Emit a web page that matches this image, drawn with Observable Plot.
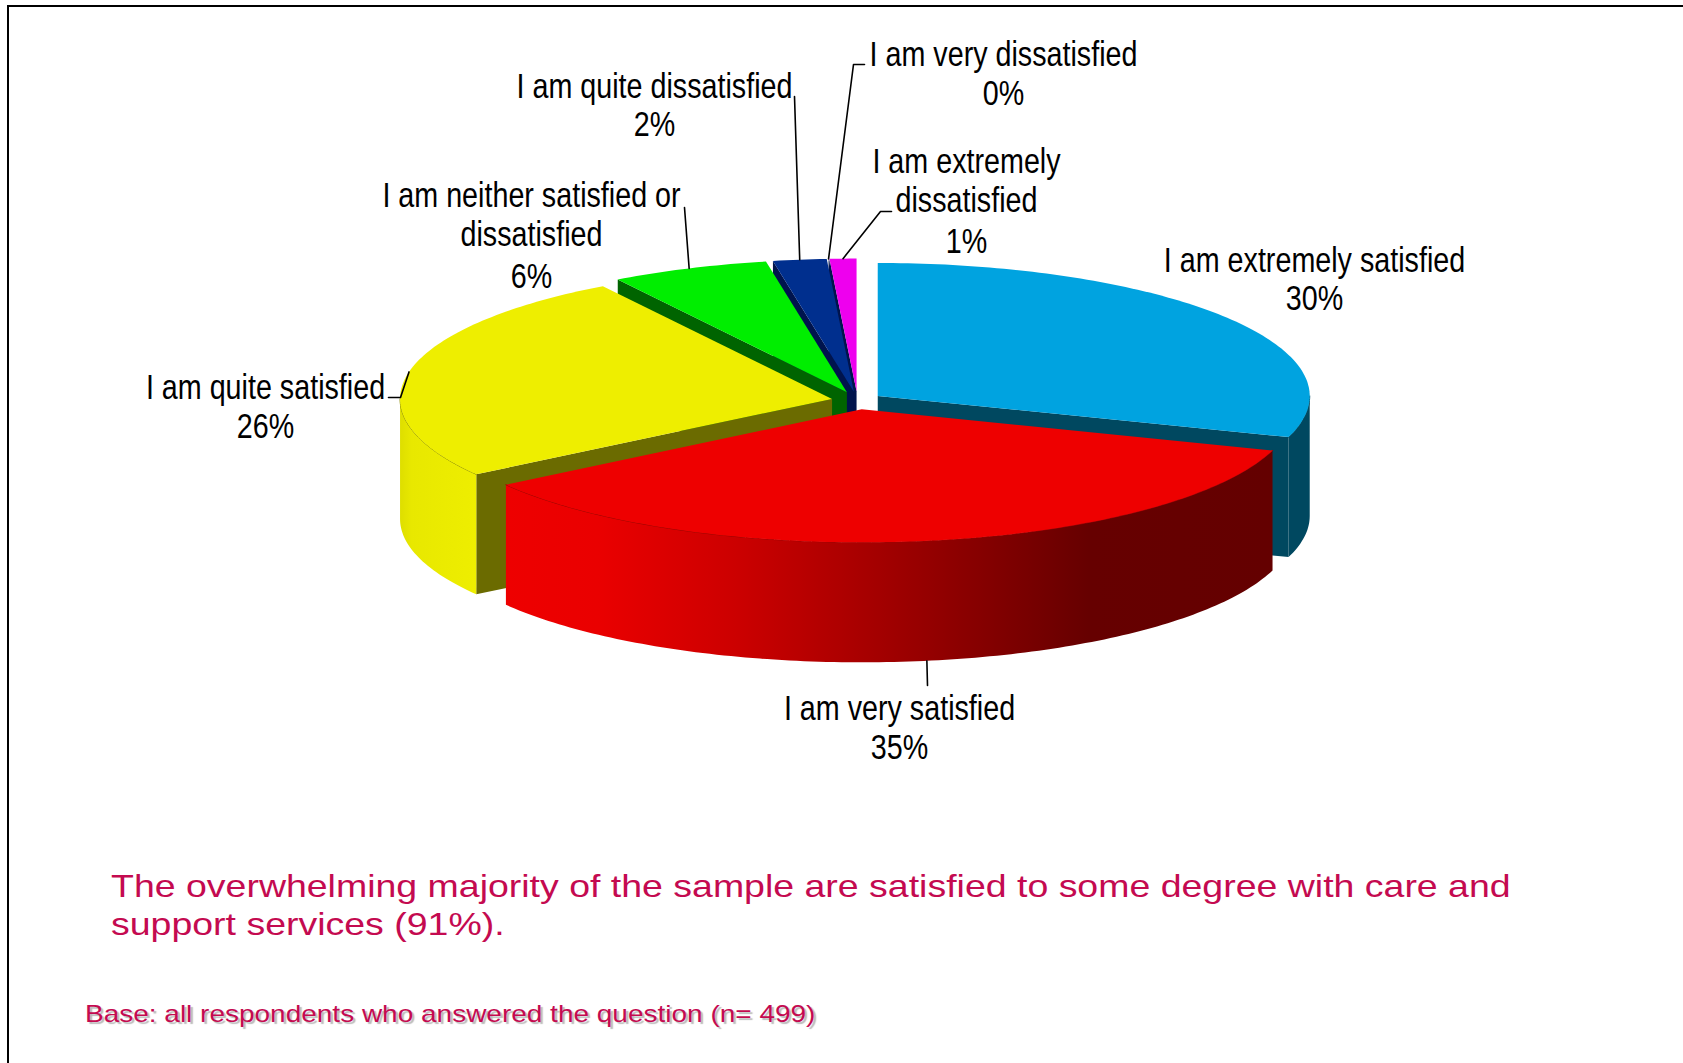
<!DOCTYPE html>
<html>
<head>
<meta charset="utf-8">
<script src="https://cdn.jsdelivr.net/npm/d3@7"></script>
<script src="https://cdn.jsdelivr.net/npm/@observablehq/plot@0.6"></script>
<style>
  html, body { margin: 0; padding: 0; background: #fff; }
  #page { position: relative; width: 1683px; height: 1063px; overflow: hidden; background: #fff; }
  #frame { position: absolute; left: 7px; top: 5px; width: 1700px; height: 1100px; border-left: 2px solid #000; border-top: 2px solid #000; }
  #chart { position: absolute; left: 0; top: 0; }
  .note { position: absolute; color: #C40A50; font-family: "Liberation Sans", Arial, sans-serif; white-space: pre; transform-origin: 0 0; }
  #finding { left: 111px; top: 867px; font-size: 32px; line-height: 38px; transform: scaleX(1.171); }
  #base { left: 85px; top: 1000px; font-size: 24px; line-height: 28px; text-shadow: 2px 2px 1px #bbb; transform: scaleX(1.166); }
</style>
</head>
<body>
<div id="page">
  <div id="frame"></div>
  <div id="chart"></div>
  <div class="note" id="finding"></div>
  <div class="note" id="base"></div>
</div>
<script>
// ---- data (clockwise from 12 o'clock) ----
const categories = [
  "I am extremely satisfied",
  "I am very satisfied",
  "I am quite satisfied",
  "I am neither satisfied or dissatisfied",
  "I am quite dissatisfied",
  "I am very dissatisfied",
  "I am extremely dissatisfied"
];
const shares = [30, 35.4, 25.7, 5.9, 2, 0, 1];
const labelLines = [
  ["I am extremely satisfied"],
  ["I am very satisfied"],
  ["I am quite satisfied"],
  ["I am neither satisfied or", "dissatisfied"],
  ["I am quite dissatisfied"],
  ["I am very dissatisfied"],
  ["I am extremely", "dissatisfied"]
];
const findingText = "The overwhelming majority of the sample are satisfied to some degree with care and\nsupport services (91%).";
const baseText = "Base: all respondents who answered the question (n= 499)";

// ---- styling ----
const topColors  = ["#00A3E0", "#EE0000", "#EEEE00", "#00EE00", "#002F8E", "#00144D", "#EE00EE"];
const wallColors = ["#004860", "url(#redWall)", "#6B6B00", "#006400", "#00144D", "#00144D", "#00144D"];
const rimColors  = ["#004860", "#A00000", "#8A8A00", "#00EE00", "#002F8E", "#00144D", "#EE00EE"];

// ---- pie projection ----
const W = 1683, H = 820;
const pieX = 857, pieY = 400, rx = 432, ry = 133, depth = 120;
const explode = [25, 29, 26, 29, 29, 29, 29];
const deg = Math.PI / 180;

// layout of text and leader elbows
const labelX = [1314, 899, 265, 531, 654, 1003, 966];
const labelY = [
  [260, 298],
  [708, 747],
  [387, 426],
  [195, 234, 276],
  [86, 124],
  [54, 93],
  [161, 200, 241]
];
const labelScaleX = 0.82;
const leaderTurn = [0, -0.4, 0, 0, 0, 0, 0];
const leaderWay = [
  null,
  [[927, 685]],
  [[400, 397], [388, 397]],
  [[684, 207]],
  [[794, 96]],
  [[853, 64], [864, 64]],
  [[880, 211], [891, 211]]
];

// slices from the shares
const total = d3.sum(shares);
let running = 0;
const slices = shares.map((v, i) => {
  const a = running / total * 360;
  running += v;
  const b = running / total * 360;
  const mid = (a + b) / 2 * deg;
  return {
    i, a, b,
    cx: pieX + explode[i] * Math.sin(mid),
    cy: pieY - explode[i] * (ry / rx) * Math.cos(mid)
  };
});
const rim = (s, t, drop = 0) => ({
  x: s.cx + rx * Math.sin(t * deg),
  y: s.cy - ry * Math.cos(t * deg) + drop
});
const sweep = (from, to) => {
  const n = Math.max(1, Math.ceil(Math.abs(to - from)));
  return d3.range(n + 1).map(k => from + (to - from) * k / n);
};
const polygon = (pts, fill) =>
  Plot.line([...pts, pts[0]], {x: "x", y: "y", fill, stroke: "none"});
const topFace = s => [{x: s.cx, y: s.cy}, ...sweep(s.a, s.b).map(t => rim(s, t))];
const radialWall = (s, t) => [
  {x: s.cx, y: s.cy}, rim(s, t), rim(s, t, depth), {x: s.cx, y: s.cy + depth}
];
const outerWall = (s, from, to) => [
  ...sweep(from, to).map(t => rim(s, t)),
  ...sweep(to, from).map(t => rim(s, t, depth))
];

const marks = [];
// gradients for curved walls
marks.push(() => {
  const svg = d3.create("svg:defs");
  const grad = (id, stops) => {
    const g = svg.append("linearGradient").attr("id", id).attr("x1", 0).attr("x2", 1).attr("y1", 0).attr("y2", 0);
    stops.forEach(([o, c]) => g.append("stop").attr("offset", o).attr("stop-color", c));
  };
  grad("redWall", [[0, "#EE0000"], [0.12, "#EA0000"], [0.3, "#CC0000"], [0.5, "#A00000"], [0.76, "#660000"], [1, "#640000"]]);
  grad("yellowWall", [[0, "#DEDE00"], [0.15, "#E8E800"], [1, "#EEEE00"]]);
  return svg.node();
});

// painter's order: back slices first
const order = [6, 5, 4, 3, 0, 2, 1];
for (const idx of order) {
  const s = slices[idx];
  const startVisible = Math.sin(s.a * deg) < -1e-6;
  const endVisible = Math.sin(s.b * deg) > 1e-6;
  if (startVisible) marks.push(polygon(radialWall(s, s.a), wallColors[idx]));
  if (endVisible)   marks.push(polygon(radialWall(s, s.b), wallColors[idx]));
  const from = Math.max(s.a, 90), to = Math.min(s.b, 270);
  if (to > from) {
    const fill = idx === 1 ? "url(#redWall)" : idx === 2 ? "url(#yellowWall)" : wallColors[idx];
    marks.push(polygon(outerWall(s, from, to), fill));
    marks.push(Plot.line(sweep(from, to).map(t => rim(s, t)), {x: "x", y: "y", stroke: rimColors[idx], strokeWidth: 1}));
  }
  if (s.b > s.a) marks.push(polygon(topFace(s), topColors[idx]));
}

// leader lines, from the rim at each slice's middle to the label
slices.forEach((s, i) => {
  if (!leaderWay[i]) return;
  const t = (s.a + s.b) / 2 + leaderTurn[i];
  const start = rim(s, t, i === 1 ? depth : 0);
  marks.push(Plot.line([start, ...leaderWay[i].map(([x, y]) => ({x, y}))],
    {x: "x", y: "y", stroke: "#000", strokeWidth: 1.6}));
});

// labels, one row per text line
const labelRows = slices.flatMap((s, i) =>
  [...labelLines[i], d3.format(".0f")(shares[i]) + "%"].map((text, k) => ({
    text, x: labelX[i], y: labelY[i][k]
  }))
);
marks.push(Plot.text(labelRows, {
  x: "x", y: "y", text: "text", fill: "#000",
  fontSize: 35, lineAnchor: "middle", textAnchor: "middle",
  fontFamily: "'Liberation Sans', sans-serif"
}));

const plot = Plot.plot({
  width: W, height: H,
  margin: 0,
  axis: null,
  x: {domain: [0, W], range: [0, W]},
  y: {domain: [0, H], range: [0, H]},
  style: {background: "transparent", overflow: "visible"},
  marks
});
// the chart's labels are set in a condensed cut of the face
d3.select(plot).selectAll("text").attr("transform", function () {
  return (this.getAttribute("transform") || "") + ` scale(${labelScaleX},1)`;
});
document.getElementById("chart").appendChild(plot);
document.getElementById("finding").textContent = findingText;
document.getElementById("base").textContent = baseText;
</script>
</body>
</html>
